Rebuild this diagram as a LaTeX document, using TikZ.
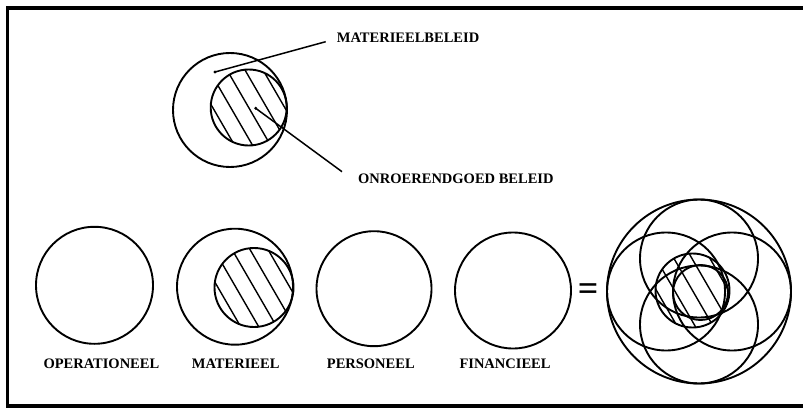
\documentclass[tikz,border=0pt]{standalone}
\usepackage{fontspec}
\setmainfont{Liberation Serif}
\usepackage{tikz}
\usetikzlibrary{calc,positioning}
\tikzset{
  ring/.style={draw=black,line width=1.9pt},
  hatch/.style={draw=black,line width=1.4pt},
  pointer/.style={draw=black,line width=1.5pt},
  frameline/.style={draw=black,line width=3.2pt},
  lbl/.style={inner sep=0pt,anchor=west,font=\bfseries\fontsize{14.5}{14.5}\selectfont},
  dotmark/.style={fill=black}
}
% hatched disk: centre x, centre y, radius
\newcommand{\hatchdisk}[3]{%
  \begin{scope}
    \clip (#1,#2) circle[radius=#3];
    \foreach \k in {-4,...,4}
      \draw[hatch] ({#1+\k*18-33},{#2-57}) -- ++(66,114);
  \end{scope}
  \draw[ring] (#1,#2) circle[radius=#3];
}

\begin{document}
\begin{tikzpicture}[x=1pt,y=-1pt]
  \useasboundingbox (0,0) rectangle (803,409);
  \draw[frameline] (810,8) -- (7.5,8) -- (7.5,406) -- (810,406);

  % top: materieel beleid with onroerend goed inside
  \draw[ring] (230,110) circle[radius=57];
  \hatchdisk{248.7}{107.5}{38}
  \coordinate (dotM) at (215,72);
  \coordinate (dotO) at (255.7,108.3);
  \fill[dotmark] (dotM) circle[radius=1.6];
  \fill[dotmark] (dotO) circle[radius=1.6];
  \node[lbl] (lblM) at (336.7,37.3) {MATERIEELBELEID};
  \node[lbl] (lblO) at (358,178.3) {ONROERENDGOED BELEID};
  \draw[pointer] (dotM) -- ($(lblM.west)+(-11,4.4)$);
  \draw[pointer] (dotO) -- ($(lblO.west)+(-16,-6.6)$);

  % bottom row
  \draw[ring] (94.5,285.3) circle[radius=58.5];
  \draw[ring] (235,286.7) circle[radius=58];
  \hatchdisk{254}{287.5}{39.5}
  \draw[ring] (374,288.7) circle[radius=57.5];
  \draw[ring] (513,290.5) circle[radius=58];
  \node[lbl] (oper) at (43.3,363.3) {OPERATIONEEL};
  \node[lbl] (mat)  at (191.7,363.3) {MATERIEEL};
  \node[lbl] (pers) at (326.7,363.3) {PERSONEEL};
  \node[lbl] (fin)  at (459.3,363.3) {FINANCIEEL};
  \node[inner sep=0pt,font=\bfseries\fontsize{36}{36}\selectfont] (eq) at (588,292) {=};

  % combined
  \draw[ring] (699,291.5) circle[radius=92];
  \foreach \dx/\dy in {0/-33,0/33,-33/0,33/0}
    \draw[ring] ({699+\dx},{291.5+\dy}) circle[radius=59];
  \hatchdisk{692.5}{290.5}{37}
  \draw[ring] (700.5,292.5) circle[radius=27.5];
\end{tikzpicture}
\end{document}
